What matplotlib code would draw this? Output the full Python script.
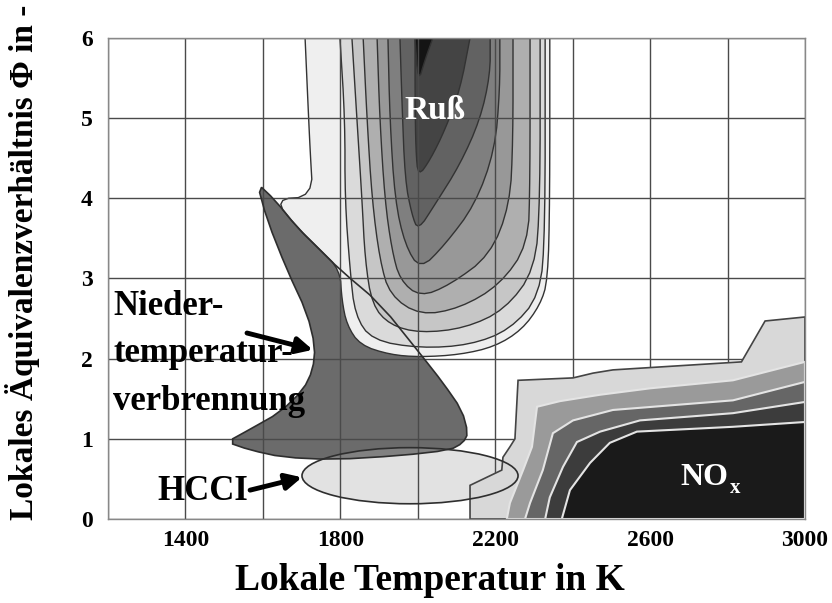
import matplotlib
matplotlib.use("Agg")
import matplotlib.pyplot as plt
from matplotlib.patches import Polygon, Ellipse
import numpy as np

plt.rcParams['font.family'] = ['Liberation Serif', 'DejaVu Serif']
plt.rcParams['font.weight'] = 'bold'
plt.rcParams['axes.labelweight'] = 'bold'

# --- data (T in K, phi) ---
x_ticks = [1400, 1800, 2200, 2600, 3000]
y_ticks = [0, 1, 2, 3, 4, 5, 6]

# Niedertemperaturverbrennung
ltc_T = [1585, 1631, 1688, 1747, 1799, 1902, 2013, 2065, 2114, 2130, 2117, 2083, 1954,
         1781, 1652, 1567, 1507, 1567, 1644, 1704, 1729, 1735, 1714, 1662, 1611]
ltc_phi = [4.19, 3.98, 3.64, 3.36, 3.11, 2.69, 2.02, 1.70, 1.36, 1.07, 0.95, 0.86, 0.79,
           0.74, 0.77, 0.86, 0.96, 1.12, 1.33, 1.61, 1.86, 2.15, 2.57, 3.11, 3.73]

# HCCI ellipse: centre, width, height
hcci_center = (1980, 0.54)
hcci_width = 558
hcci_height = 0.70

# soot contours, outside -> inside
soot1_T = [1709, 1716, 1722, 1729, 1629, 1688, 1747, 1799, 1804, 1817, 1851, 1928, 2006,
           2109, 2199, 2269, 2316, 2336, 2341, 2341]
soot1_phi = [6.0, 5.23, 4.60, 4.02, 3.99, 3.64, 3.36, 3.11, 2.73, 2.42, 2.17, 2.05, 2.02,
             2.05, 2.15, 2.36, 2.67, 2.98, 3.98, 6.0]
soot2_T = [1799, 1812, 1812, 1825, 1838, 1882, 2006, 2135, 2238, 2316, 2329, 2329]
soot2_phi = [6.0, 4.98, 3.98, 3.11, 2.54, 2.23, 2.13, 2.17, 2.36, 2.79, 3.60, 6.0]
soot3_T = [1830, 1843, 1856, 1864, 1882, 1928, 2006, 2122, 2225, 2303, 2316, 2316]
soot3_phi = [6.0, 4.98, 3.98, 3.23, 2.67, 2.42, 2.32, 2.38, 2.61, 3.11, 3.98, 6.0]
soot4_T = [1859, 1869, 1882, 1902, 1928, 2006, 2109, 2212, 2285, 2290, 2290]
soot4_phi = [6.0, 4.98, 3.98, 3.23, 2.79, 2.54, 2.63, 2.92, 3.42, 4.23, 6.0]
soot5_T = [1895, 1902, 1915, 1933, 1954, 2006, 2083, 2187, 2238, 2246, 2246]
soot5_phi = [6.0, 4.98, 3.98, 3.36, 2.98, 2.77, 2.92, 3.29, 3.92, 4.73, 6.0]
soot6_T = [1923, 1928, 1941, 1967, 2006, 2070, 2148, 2199, 2212, 2212]
soot6_phi = [6.0, 4.98, 3.98, 3.42, 3.11, 3.42, 3.92, 4.60, 5.35, 6.0]
soot7_T = [1954, 1959, 1967, 1985, 2001, 2044, 2109, 2161, 2187, 2187]
soot7_phi = [6.0, 5.23, 4.23, 3.79, 3.60, 3.92, 4.42, 4.98, 5.54, 6.0]
soot8_T = [1993, 1993, 1995, 2001, 2032, 2070, 2109, 2135]
soot8_phi = [6.0, 5.23, 4.60, 4.27, 4.48, 4.85, 5.35, 6.0]
soot9_T = [1993, 2001, 2019, 2039]
soot9_phi = [6.0, 5.44, 5.73, 6.0]

# NOx contours, outside -> inside
nox1_T = [2135, 2135, 2217, 2220, 2238, 2251, 2259, 2401, 2453, 2504, 2836, 2897, 3000, 3000]
nox1_phi = [0, 0.42, 0.61, 0.77, 0.90, 1.00, 1.73, 1.76, 1.82, 1.86, 1.96, 2.47, 2.52, 0]
nox2_T = [2230, 2238, 2272, 2295, 2308, 2367, 2471, 2600, 2814, 3000, 3000]
nox2_phi = [0, 0.20, 0.61, 0.90, 1.40, 1.47, 1.55, 1.63, 1.73, 1.96, 0]
nox3_T = [2277, 2290, 2323, 2349, 2401, 2504, 2814, 3000, 3000]
nox3_phi = [0, 0.20, 0.61, 1.07, 1.23, 1.36, 1.48, 1.71, 0]
nox4_T = [2329, 2341, 2375, 2411, 2471, 2574, 2814, 3000, 3000]
nox4_phi = [0, 0.27, 0.65, 0.96, 1.09, 1.23, 1.32, 1.46, 0]
nox5_T = [2372, 2393, 2445, 2496, 2566, 2814, 3000, 3000]
nox5_phi = [0, 0.36, 0.70, 0.95, 1.09, 1.15, 1.21, 0]

soot = [(soot1_T, soot1_phi), (soot2_T, soot2_phi), (soot3_T, soot3_phi),
        (soot4_T, soot4_phi), (soot5_T, soot5_phi), (soot6_T, soot6_phi),
        (soot7_T, soot7_phi), (soot8_T, soot8_phi), (soot9_T, soot9_phi)]
soot_colors = ['#efefef', '#dadada', '#c6c6c6', '#afafaf', '#989898',
               '#7f7f7f', '#626262', '#444444', '#141414']
nox = [(nox1_T, nox1_phi), (nox2_T, nox2_phi), (nox3_T, nox3_phi),
       (nox4_T, nox4_phi), (nox5_T, nox5_phi)]
nox_colors = ['#d8d8d8', '#9a9a9a', '#666666', '#3c3c3c', '#1a1a1a']


def chaikin(x, y, n=2, closed=False):
    # corner cutting, so the traced outlines look drawn rather than jagged
    pts = np.column_stack([x, y]).astype(float)
    for _ in range(n):
        if closed:
            P, Q = pts, np.roll(pts, -1, axis=0)
        else:
            P, Q = pts[:-1], pts[1:]
        new = np.empty((2 * len(P), 2))
        new[0::2] = 0.75 * P + 0.25 * Q
        new[1::2] = 0.25 * P + 0.75 * Q
        if not closed:
            new = np.vstack([pts[0], new, pts[-1]])
        pts = new
    return pts


fig = plt.figure(figsize=(8.32, 6.03), dpi=100)
ax = fig.add_axes([0.1298, 0.1393, 0.8377, 0.7977])
ax.set_xlim(1200, 3000)
ax.set_ylim(0, 6)

ltc_xy = chaikin(ltc_T, ltc_phi, n=1, closed=True)
ax.add_patch(Polygon(ltc_xy, closed=True, facecolor='#6b6b6b', edgecolor='none', zorder=1))

for (t, p), c in zip(soot, soot_colors):
    ax.add_patch(Polygon(chaikin(t, p, n=2), closed=True, facecolor=c,
                         edgecolor='#333333', lw=1.0, zorder=2))

ax.add_patch(Ellipse(hcci_center, hcci_width, hcci_height, facecolor='#acacac',
                     alpha=0.35, edgecolor='none', zorder=2.5))

# grid
for t in np.arange(1200, 3001, 200):
    ax.axvline(t, color='#4a4a4a', lw=1.0, zorder=3)
for p in y_ticks:
    ax.axhline(p, color='#4a4a4a', lw=1.0, zorder=3)

for i, ((t, p), c) in enumerate(zip(nox, nox_colors)):
    ax.add_patch(Polygon(np.column_stack([t, p]), closed=True, facecolor=c,
                         edgecolor='#444444' if i == 0 else '#e4e4e4',
                         lw=1.2 if i == 0 else 1.5, zorder=4 + i * 0.1))

# outlines
ax.add_patch(Polygon(ltc_xy, closed=True, facecolor='none', edgecolor='#2e2e2e', lw=1.2, zorder=5))
ax.add_patch(Ellipse(hcci_center, hcci_width, hcci_height, facecolor='none',
                     edgecolor='#2e2e2e', lw=1.2, zorder=5))

# labels
ax.text(2044, 4.99, 'Ruß', color='white', fontsize=24, ha='center', va='baseline', zorder=6)
ax.text(2677, 0.42, 'NO', color='white', fontsize=23, ha='left', va='baseline', zorder=6)
ax.text(2805, 0.32, 'x', color='white', fontsize=15, ha='left', va='baseline', zorder=6)
ax.text(1213, 2.545, 'Nieder-', color='black', fontsize=25, ha='left', va='baseline', zorder=6)
ax.text(1213, 1.96, 'temperatur-', color='black', fontsize=25, ha='left', va='baseline', zorder=6)
ax.text(1213, 1.36, 'verbrennung', color='black', fontsize=25, ha='left', va='baseline', zorder=6)
ax.text(1327, 0.237, 'HCCI', color='black', fontsize=25, ha='left', va='baseline', zorder=6)

arrow = dict(arrowstyle='-|>', mutation_scale=24, lw=3.5, color='black', shrinkA=0, shrinkB=0)
ax.annotate('', xy=(1729, 2.11), xytext=(1559, 2.32), arrowprops=arrow, zorder=6)
ax.annotate('', xy=(1701, 0.52), xytext=(1567, 0.36), arrowprops=arrow, zorder=6)

ax.set_xticks(x_ticks)
ax.set_yticks(y_ticks)
ax.tick_params(length=0, labelsize=17)
ax.tick_params(axis='y', pad=11)
ax.tick_params(axis='x', pad=8)
for s in ax.spines.values():
    s.set_color('#888888')
    s.set_linewidth(1.0)
    s.set_zorder(7)

ax.set_xlabel('Lokale Temperatur in K', fontsize=27, fontweight='bold')
ax.set_ylabel('Lokales Äquivalenzverhältnis Φ in -', fontsize=24, fontweight='bold')
ax.xaxis.set_label_coords(0.462, -0.092)
ax.yaxis.set_label_coords(-0.0976, 0.534)

fig.savefig('out.png', dpi=100)
